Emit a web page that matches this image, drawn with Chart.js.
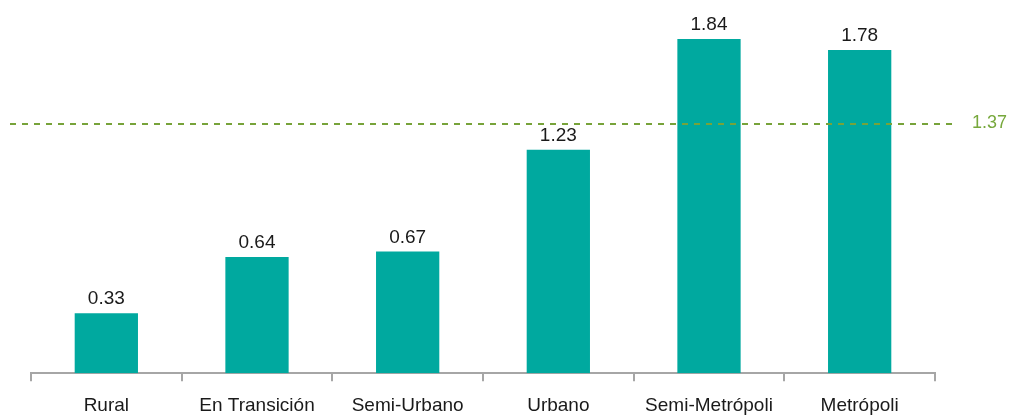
<!DOCTYPE html>
<html>
<head>
<meta charset="utf-8">
<script src="https://cdn.jsdelivr.net/npm/chart.js@4"></script>
<style>
html,body{margin:0;padding:0;background:#fff;}
#wrap{width:1011px;height:415px;position:relative;}
</style>
</head>
<body>
<div id="wrap"><canvas id="c" width="1011" height="415"></canvas></div>
<script>
const categories = ["Rural", "En Transición", "Semi-Urbano", "Urbano", "Semi-Metrópoli", "Metrópoli"];
const values = [0.33, 0.64, 0.67, 1.23, 1.84, 1.78];
const referenceValue = 1.37;
const referenceLabel = "1.37";

const FONT = "'Liberation Sans', Arial, sans-serif";
const FS = 19;

const valueLabels = {
  id: 'valueLabels',
  afterDatasetsDraw(chart) {
    const ctx = chart.ctx;
    const meta = chart.getDatasetMeta(0);
    ctx.save();
    ctx.font = FS + "px " + FONT;
    ctx.fillStyle = "#1a1a1a";
    ctx.textAlign = "center";
    ctx.textBaseline = "alphabetic";
    meta.data.forEach((bar, i) => {
      ctx.fillText(values[i].toFixed(2), bar.x, bar.y - 9);
    });
    ctx.restore();
  }
};

const refLine = {
  id: 'refLine',
  afterDatasetsDraw(chart) {
    const ctx = chart.ctx;
    const y = Math.round(chart.scales.y.getPixelForValue(referenceValue));
    ctx.save();
    ctx.strokeStyle = "#77a33a";
    ctx.lineWidth = 2;
    ctx.setLineDash([6, 6]);
    ctx.beginPath();
    ctx.moveTo(10, y);
    ctx.lineTo(952, y);
    ctx.stroke();
    ctx.setLineDash([]);
    ctx.font = "18px " + FONT;
    ctx.fillStyle = "#77a83c";
    ctx.textAlign = "left";
    ctx.textBaseline = "middle";
    ctx.fillText(referenceLabel, 972, y - 1);
    ctx.restore();
  }
};

new Chart(document.getElementById('c'), {
  type: 'bar',
  data: {
    labels: categories,
    datasets: [{
      data: values,
      backgroundColor: "#00a99f",
      borderWidth: 0,
      categoryPercentage: 1.0,
      barPercentage: 0.42
    }]
  },
  options: {
    responsive: false,
    animation: false,
    devicePixelRatio: 1,
    layout: { padding: { left: 31, right: 76, top: 10, bottom: -15 } },
    plugins: { legend: { display: false }, title: { display: false }, tooltip: { enabled: false } },
    scales: {
      x: {
        border: { display: true, color: "#a6a6a6", width: 2 },
        grid: { display: true, drawOnChartArea: false, drawTicks: true, tickLength: 8, color: "#a6a6a6", lineWidth: 2, offset: true },
        ticks: { color: "#1a1a1a", font: { family: FONT, size: FS }, padding: 13, maxRotation: 0, autoSkip: false }
      },
      y: {
        display: false,
        min: 0,
        max: 2.0
      }
    }
  },
  plugins: [valueLabels, refLine]
});
</script>
</body>
</html>
